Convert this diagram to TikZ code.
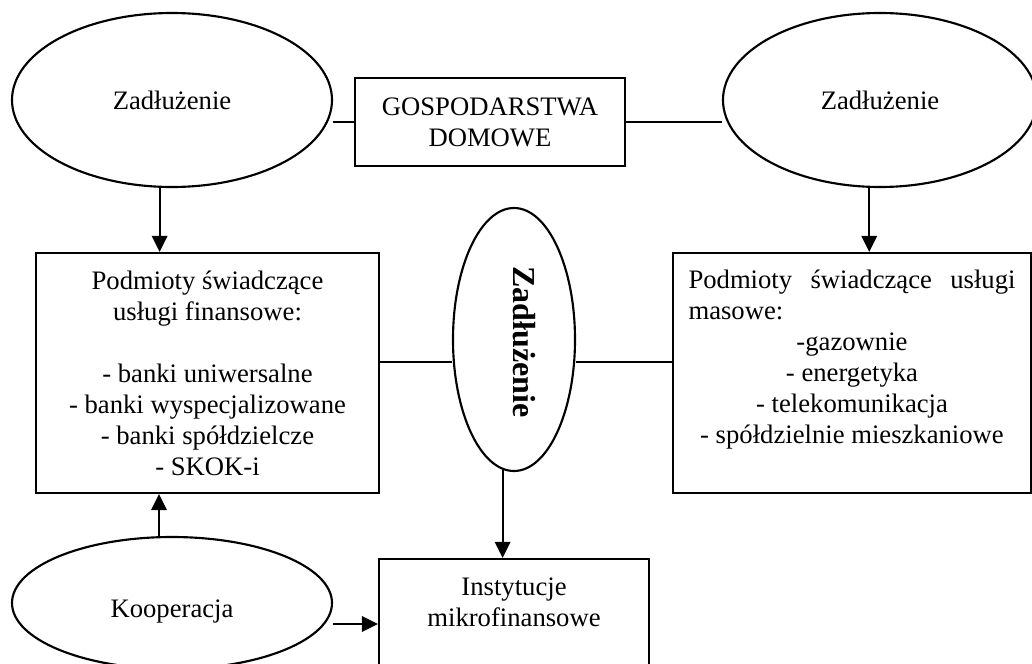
\documentclass[tikz,border=0pt]{standalone}
\usepackage{fontspec}
\setmainfont{Liberation Serif}
\usetikzlibrary{arrows.meta,shapes.geometric}
\begin{document}
\begin{tikzpicture}[x=0.75pt,y=-0.75pt,
  line width=1.6pt,
  every node/.style={font=\fontsize{20}{23.25}\selectfont},
  oval/.style={draw,ellipse,inner sep=0pt},
  box/.style={draw,rectangle,inner sep=0pt},
  txt/.style={align=center,inner sep=0pt},
  arr/.style={-{Triangle[length=12pt,width=11.5pt]}}]
\useasboundingbox (0,0) rectangle (1032,664);
\clip (0,0) rectangle (1032,664);

% top row
\node[oval,minimum width=240pt,minimum height=130.5pt] (zl) at (172,100) {Zadłużenie};
\node[box,align=center,minimum width=202.5pt,minimum height=66pt] (gd) at (490,122) {GOSPODARSTWA\\DOMOWE};
\node[oval,minimum width=235.5pt,minimum height=130.5pt] (zr) at (880,100) {Zadłużenie};

% middle row
\node[box,align=center,minimum width=257.25pt,minimum height=180pt] (fin) at (207.5,373)
  {Podmioty świadczące\\usługi finansowe:\\[23.25pt]- banki uniwersalne\\- banki wyspecjalizowane\\- banki spółdzielcze\\- SKOK-i};
\node[oval,minimum width=91.5pt,minimum height=197.25pt] (mz) at (514,339.5) {};
\node[font=\bfseries\fontsize{24}{28}\selectfont,rotate=-90,inner sep=0pt] (mzt) at (524,342) {Zadłużenie};
\node[box,minimum width=268.5pt,minimum height=180pt] (mas) at (852,373) {};
\node[txt] (mast) at (852,360)
  {\makebox[245.25pt][s]{Podmioty\hfill świadczące\hfill usługi}\\
   \makebox[245.25pt][l]{masowe:}\\
   -gazownie\\- energetyka\\- telekomunikacja\\- spółdzielnie mieszkaniowe};

% bottom row
\node[oval,minimum width=240pt,minimum height=99pt] (koop) at (172,603) {};
\node[txt] (koopt) at (172,612) {Kooperacja};
\node[box,minimum width=202.5pt,minimum height=105.75pt] (inst) at (514,629.5) {};
\node[txt] (instt) at (514,602.5) {Instytucje\\mikrofinansowe};

% connectors
\coordinate (ymid) at (0,362);
\coordinate (ylow) at (0,624);
\draw (zl.east |- gd.west) -- (gd.west);
\draw (gd.east) -- (zr.west |- gd.east);
\draw[arr] (zl.262) -- (zl.262 |- fin.north);
\draw[arr] (zr.263) -- (zr.263 |- mas.north);
\draw (fin.east |- ymid) -- (mz.west |- ymid);
\draw (mz.east |- ymid) -- (mas.west |- ymid);
\draw[arr] (mz.265) -- (mz.265 |- inst.north);
\draw[arr] (koop.101) -- (koop.101 |- fin.south);
\draw[arr] (koop.east |- ylow) -- (inst.west |- ylow);
\end{tikzpicture}
\end{document}
